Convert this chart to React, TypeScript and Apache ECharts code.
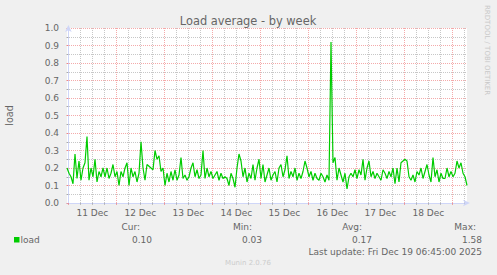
import React, { useEffect, useRef } from "react";
import * as echarts from "echarts";

// ---- data (hourly samples) ----
const START_HOUR = -0.7; // hours relative to 11 Dec 00:00
const STEP_HOURS = 1;
const X_MIN = -0.7;
const X_MAX = 199.3;

const loadValues: number[] = [
  0.20, 0.17, 0.15, 0.11, 0.28, 0.14, 0.24, 0.13, 0.20, 0.23,
  0.38, 0.13, 0.20, 0.15, 0.25, 0.12, 0.18, 0.15, 0.20, 0.15,
  0.20, 0.14, 0.17, 0.22, 0.15, 0.18, 0.10, 0.18, 0.15, 0.20,
  0.23, 0.10, 0.20, 0.15, 0.18, 0.12, 0.17, 0.35, 0.20, 0.13,
  0.22, 0.21, 0.20, 0.19, 0.30, 0.25, 0.27, 0.18, 0.20, 0.10,
  0.17, 0.12, 0.18, 0.13, 0.19, 0.13, 0.16, 0.26, 0.14, 0.16,
  0.13, 0.15, 0.20, 0.23, 0.15, 0.19, 0.14, 0.16, 0.30, 0.14,
  0.20, 0.15, 0.18, 0.14, 0.16, 0.18, 0.13, 0.17, 0.14, 0.15,
  0.14, 0.10, 0.17, 0.14, 0.09, 0.20, 0.28, 0.24, 0.15, 0.20,
  0.12, 0.17, 0.14, 0.22, 0.13, 0.20, 0.25, 0.14, 0.22, 0.12,
  0.16, 0.20, 0.13, 0.16, 0.18, 0.12, 0.20, 0.22, 0.15, 0.19,
  0.27, 0.14, 0.18, 0.15, 0.20, 0.13, 0.17, 0.14, 0.18, 0.24,
  0.20, 0.15, 0.18, 0.13, 0.17, 0.14, 0.13, 0.17, 0.15, 0.12,
  0.16, 0.13, 0.92, 0.23, 0.26, 0.13, 0.20, 0.16, 0.12, 0.17,
  0.08, 0.15, 0.17, 0.15, 0.19, 0.14, 0.19, 0.16, 0.25, 0.13,
  0.20, 0.24, 0.15, 0.18, 0.14, 0.17, 0.15, 0.13, 0.19, 0.17,
  0.14, 0.18, 0.15, 0.20, 0.11, 0.20, 0.12, 0.23, 0.24, 0.25,
  0.24, 0.15, 0.13, 0.16, 0.12, 0.18, 0.16, 0.20, 0.14, 0.18,
  0.22, 0.16, 0.12, 0.26, 0.15, 0.19, 0.12, 0.17, 0.14, 0.14,
  0.20, 0.15, 0.18, 0.15, 0.17, 0.24, 0.20, 0.23, 0.17, 0.15,
  0.10,
];

const dayTickHours = [0, 24, 48, 72, 96, 120, 144, 168, 192];
const sixHourTickHours = [
  6, 12, 18, 30, 36, 42, 54, 60, 66, 78, 84, 90, 102, 108, 114,
  126, 132, 138, 150, 156, 162, 174, 180, 186, 198,
];
const dayLabelHours = [12, 36, 60, 84, 108, 132, 156, 180];
const dayLabels = ["11 Dec", "12 Dec", "13 Dec", "14 Dec", "15 Dec", "16 Dec", "17 Dec", "18 Dec"];

const legendHeaders = ["Cur:", "Min:", "Avg:", "Max:"];
const legendValues = ["0.10", "0.03", "0.17", "1.58"];
const seriesName = "load";
const titleText = "Load average - by week";
const lastUpdate = "Last update: Fri Dec 19 06:45:00 2025";
const watermark = "RRDTOOL / TOBI OETIKER";
const footer = "Munin 2.0.76";

const FONT = "DejaVu Sans";
const TXT = "#666666";
const MGRID = "rgba(235,100,100,0.55)";
const GRID = "rgba(130,130,130,0.45)";
const AXIS = "#CFD6F8";

export default function App() {
  const ref = useRef<HTMLDivElement>(null);
  useEffect(() => {
    if (!ref.current) return;
    const chart = echarts.init(ref.current, undefined, { renderer: "svg" });
    const data = loadValues.map((v, i) => [START_HOUR + i * STEP_HOURS, v]);
    const headerRight = [140, 252, 362, 476];
    const valueRight = [152, 262, 372, 482];
    const graphics: any[] = [
      {
        type: "text",
        x: 248, y: 21,
        style: { text: titleText, font: `11.4px "${FONT}"`, fill: TXT, align: "center", verticalAlign: "middle" },
      },
      {
        type: "text",
        x: 9, y: 115.5, rotation: Math.PI / 2,
        style: { text: seriesName, font: `9.6px "${FONT}"`, fill: TXT, align: "center", verticalAlign: "middle" },
      },
      {
        type: "text",
        x: 487, y: 5, rotation: -Math.PI / 2,
        style: { text: watermark, font: `7px "${FONT}"`, fill: "#c8c8c8", align: "left", verticalAlign: "middle" },
      },
      {
        type: "rect",
        shape: { x: 14, y: 237, width: 5.5, height: 5.5 },
        style: { fill: "#00CC00" },
      },
      {
        type: "text",
        x: 20.5, y: 239.5,
        style: { text: seriesName, font: `9px "${FONT}"`, fill: TXT, align: "left", verticalAlign: "middle" },
      },
      {
        type: "text",
        x: 482, y: 252,
        style: { text: lastUpdate, font: `9px "${FONT}"`, fill: TXT, align: "right", verticalAlign: "middle" },
      },
      {
        type: "text",
        x: 248, y: 263,
        style: { text: footer, font: `7px "${FONT}"`, fill: "#cccccc", align: "center", verticalAlign: "middle" },
      },
    ];
    legendHeaders.forEach((h, i) => {
      graphics.push({
        type: "text",
        x: headerRight[i], y: 227,
        style: { text: h, font: `9px "${FONT}"`, fill: TXT, align: "right", verticalAlign: "middle" },
      });
      graphics.push({
        type: "text",
        x: valueRight[i], y: 239.5,
        style: { text: legendValues[i], font: `9px "${FONT}"`, fill: TXT, align: "right", verticalAlign: "middle" },
      });
    });

    chart.setOption({
      animation: false,
      backgroundColor: "#F0F0F0",
      textStyle: { fontFamily: FONT },
      grid: {
        left: 67, top: 28, width: 400, height: 175,
        show: true, backgroundColor: "#FFFFFF", borderWidth: 0,
      },
      xAxis: [
        {
          type: "value",
          min: X_MIN, max: X_MAX,
          position: "bottom",
          axisLine: { show: false },
          axisTick: { show: true, length: 2, customValues: sixHourTickHours, lineStyle: { color: GRID } },
          splitLine: { show: true, lineStyle: { color: GRID, type: [1, 1], width: 1 } },
          axisLabel: { show: false },
        },
        {
          type: "value",
          min: X_MIN, max: X_MAX,
          position: "bottom",
          offset: 0,
          axisLine: {
            show: true, onZero: false,
            lineStyle: { color: AXIS, width: 1 },
            symbol: ["none", "arrow"], symbolSize: [5, 7], symbolOffset: [0, 3],
          },
          axisTick: { show: true, length: 2, customValues: dayTickHours, lineStyle: { color: MGRID } },
          splitLine: { show: true, lineStyle: { color: MGRID, type: [1, 1], width: 1 } },
          axisLabel: {
            show: true,
            customValues: dayLabelHours,
            formatter: (v: number) => dayLabels[dayLabelHours.indexOf(Math.round(v))] ?? "",
            color: TXT, fontSize: 9, fontFamily: FONT, margin: 5,
          },
        },
      ],
      yAxis: {
        type: "value",
        min: 0, max: 1, interval: 0.1,
        axisLine: {
          show: true,
          lineStyle: { color: AXIS, width: 1 },
          symbol: ["none", "arrow"], symbolSize: [5, 7], symbolOffset: [0, 3],
        },
        axisTick: { show: true, length: 2, lineStyle: { color: MGRID } },
        minorTick: { show: true, splitNumber: 2, length: 2, lineStyle: { color: GRID } },
        splitLine: { show: true, lineStyle: { color: MGRID, type: [1, 1], width: 1 } },
        minorSplitLine: { show: true, lineStyle: { color: GRID, type: [1, 1], width: 1 } },
        axisLabel: {
          formatter: (v: number) => v.toFixed(1),
          color: TXT, fontSize: 9, fontFamily: FONT, margin: 8,
        },
      },
      series: [
        {
          type: "line",
          name: seriesName,
          data,
          xAxisIndex: 1,
          showSymbol: false,
          symbol: "none",
          lineStyle: { color: "#00CC00", width: 1.2 },
          z: 5,
        },
      ],
      graphic: graphics,
    });
    return () => chart.dispose();
  }, []);
  return <div ref={ref} style={{ position: "fixed", left: 0, top: 0, width: 497, height: 275 }} />;
}
